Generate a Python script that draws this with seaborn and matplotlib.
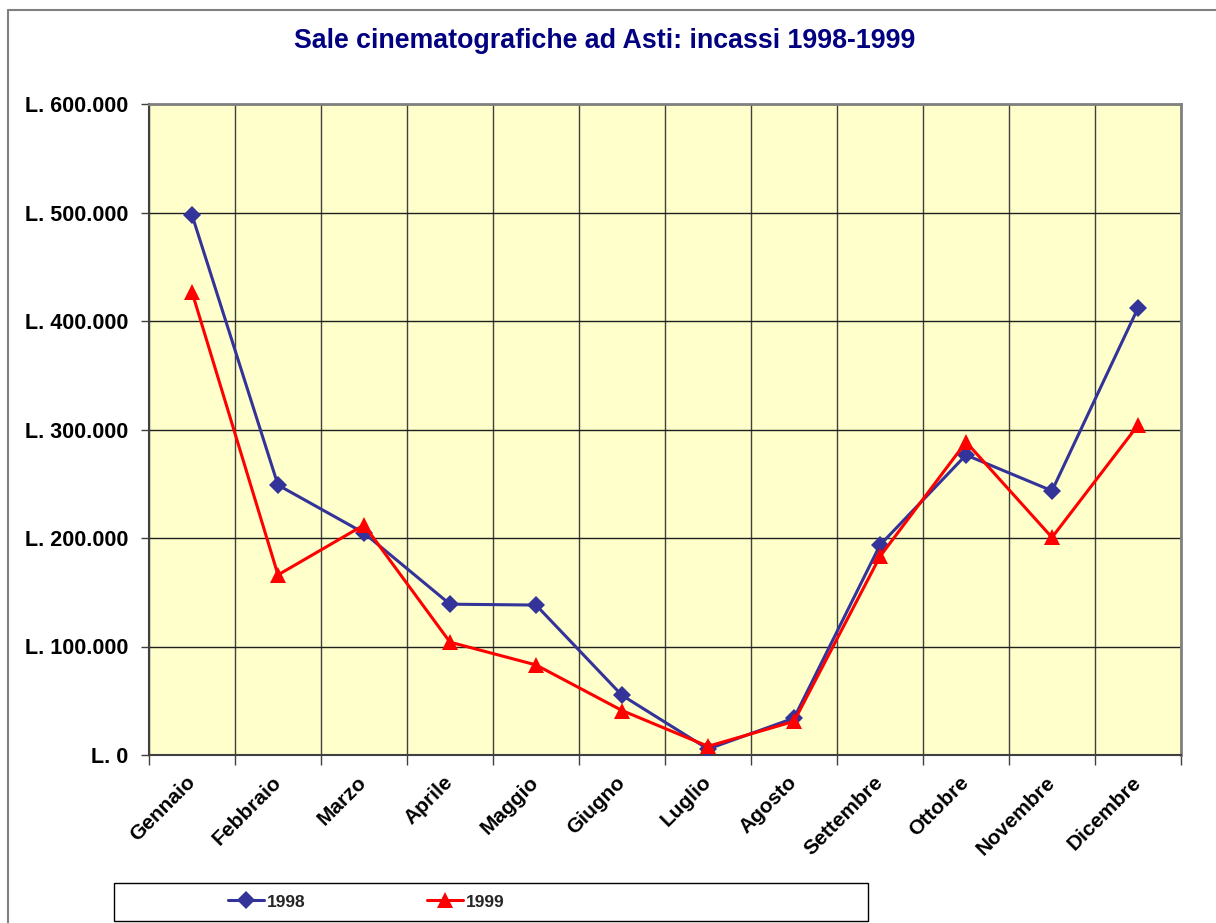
import matplotlib
matplotlib.use("Agg")
import matplotlib.pyplot as plt
import seaborn as sns
import pandas as pd
import numpy as np
from matplotlib.ticker import FuncFormatter, FixedLocator
from matplotlib.patches import Rectangle
from matplotlib.lines import Line2D

months = ["Gennaio", "Febbraio", "Marzo", "Aprile", "Maggio", "Giugno",
          "Luglio", "Agosto", "Settembre", "Ottobre", "Novembre", "Dicembre"]
incassi_1998 = [497700, 248800, 204600, 139000, 138200, 55000,
                5500, 34000, 193500, 276500, 243500, 412000]
incassi_1999 = [426700, 166000, 212000, 104000, 83000, 41000,
                8000, 31000, 183000, 288500, 200500, 304000]
series_names = ["1998", "1999"]
y_ticks = [0, 100000, 200000, 300000, 400000, 500000, 600000]
title_text = "Sale cinematografiche ad Asti: incassi 1998-1999"

sns.set_style("white")
plt.rcParams['font.family'] = ['Liberation Sans', 'DejaVu Sans']

df = pd.DataFrame({
    "Mese": months * 2,
    "Incasso": incassi_1998 + incassi_1999,
    "Anno": [series_names[0]] * 12 + [series_names[1]] * 12,
})

W, H = 1216, 923
fig = plt.figure(figsize=(W / 100, H / 100), dpi=100)
fig.patch.set_facecolor("white")
ax = fig.add_axes([149 / W, 1 - 755 / H, (1181 - 149) / W, (755 - 104) / H])
ax.set_facecolor("#FFFFCC")

palette = {"1998": "#333399", "1999": "#FF0000"}
markers = {"1998": "D", "1999": "^"}
sns.lineplot(data=df, x="Mese", y="Incasso", hue="Anno", style="Anno",
             palette=palette, markers=markers, dashes=False, sort=False,
             linewidth=2.2, markersize=9, markeredgewidth=0, ax=ax, legend=False,
             zorder=3)
for ln in ax.get_lines():
    if ln.get_marker() == "^":
        ln.set_markersize(12)
    elif ln.get_marker() == "D":
        ln.set_markersize(9.5)

n = len(months)
ax.set_xlim(-0.5, n - 0.5)
ax.set_ylim(y_ticks[0], y_ticks[-1])
ax.set_xlabel("")
ax.set_ylabel("")

ax.xaxis.set_major_locator(FixedLocator(np.arange(n)))
ax.set_xticklabels(months)
ax.xaxis.set_minor_locator(FixedLocator(np.arange(n + 1) - 0.5))
ax.set_yticks(y_ticks)
ax.yaxis.set_major_formatter(FuncFormatter(lambda v, p: "L. " + f"{v:,.0f}".replace(",", ".")))

ax.tick_params(axis="x", which="major", length=0, pad=17.5)
ax.tick_params(axis="x", which="minor", length=7, width=1, color="#404040", direction="out", bottom=True)
ax.tick_params(axis="y", which="major", length=6, width=1, color="#404040", direction="out", left=True, pad=9)

for lbl in ax.get_xticklabels():
    lbl.set_rotation(45)
    lbl.set_ha("right")
    lbl.set_va("center")
    lbl.set_rotation_mode("anchor")
    lbl.set_fontweight("bold")
    lbl.set_fontsize(15)
    lbl.set_color("black")
for lbl in ax.get_yticklabels():
    lbl.set_fontweight("bold")
    lbl.set_fontsize(15.5)
    lbl.set_color("black")

ax.grid(False)
ax.xaxis.grid(True, which="minor", color="#404040", linewidth=1)
ax.yaxis.grid(True, which="major", color="#202020", linewidth=1)
ax.set_axisbelow(True)

for side in ["left", "bottom"]:
    ax.spines[side].set_color("#404040")
    ax.spines[side].set_linewidth(1.5)
for side in ["right", "top"]:
    ax.spines[side].set_color("#808080")
    ax.spines[side].set_linewidth(2)

fig.text(605 / W, 1 - 41 / H, title_text, ha="center", va="center",
         fontsize=19.3, fontweight="bold", color="#000080")

# outer chart frame
fig.add_artist(Line2D([8 / W, 8 / W], [0, 1 - 10 / H], transform=fig.transFigure,
                      color="#808080", linewidth=1.5))
fig.add_artist(Line2D([8 / W, 1], [1 - 10 / H, 1 - 10 / H], transform=fig.transFigure,
                      color="#808080", linewidth=1.5))

# legend box
fig.add_artist(Rectangle((114 / W, 1 - 921 / H), (868 - 114) / W, (921 - 883) / H,
                         transform=fig.transFigure, facecolor="white",
                         edgecolor="black", linewidth=1))
handles = [Line2D([], [], color=palette[s], marker=markers[s], linewidth=2.2,
                  markersize=9 if markers[s] == "D" else 11, markeredgewidth=0)
           for s in series_names]
leg = fig.legend(handles, series_names, loc="center",
                 bbox_to_anchor=(366 / W, 1 - 902 / H), ncol=2, frameon=False,
                 handlelength=2.1, columnspacing=7.0, handletextpad=0.15,
                 prop={"weight": "bold", "size": 12.5})

fig.savefig("out.png", dpi=100)
